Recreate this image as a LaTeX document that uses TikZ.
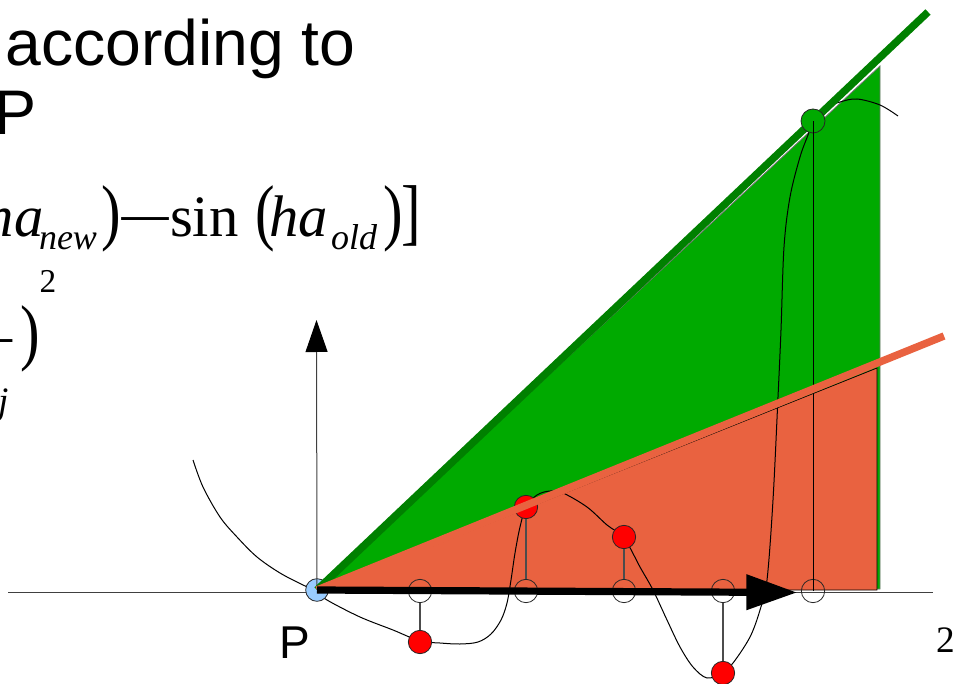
\documentclass[tikz,border=0pt]{standalone}
\usepackage{fontspec}
\usepackage{graphicx}
\setmainfont{Liberation Sans}
\newfontfamily\frm{Liberation Serif}
\usetikzlibrary{arrows.meta}
\definecolor{grnfill}{RGB}{0,170,0}
\definecolor{grnline}{RGB}{0,128,0}
\definecolor{orng}{RGB}{233,98,64}
\definecolor{ltblue}{RGB}{153,204,255}
\definecolor{redpt}{RGB}{255,0,0}
\newcommand{\fmbig}{\frm\fontsize{44}{50}\selectfont}
\newcommand{\fmsub}{\frm\fontsize{27}{32}\selectfont}
\newcommand{\fmsup}{\frm\fontsize{25}{30}\selectfont}
\newcommand{\tallp}[1]{\scalebox{1}[1.25]{#1}}
\begin{document}
\begin{tikzpicture}[x=0.75pt,y=-0.75pt,
  txt/.style={inner sep=0pt, outer sep=0pt, anchor=base west},
  mid/.style={inner sep=0pt, outer sep=0pt},
  axisline/.style={draw=black!75, line width=0.75pt},
  opendot/.style={circle, draw=black!85, line width=0.6pt, minimum size=17.5pt, inner sep=0pt, outer sep=0pt},
  reddot/.style={circle, draw=black!85, fill=redpt, line width=0.6pt, minimum size=17.5pt, inner sep=0pt, outer sep=0pt},
  conn/.style={draw=black!70, line width=1.1pt},
  thinblack/.style={draw=black, line width=0.7pt},
  band/.style={line width=5.6pt, line cap=butt}]
\useasboundingbox (0,0) rectangle (953,684);
\clip (0,0) rectangle (953,684);

% title text
\node[txt, font=\fontsize{48.2}{56}\selectfont] (t1) at (5.5,66) {according to};
\node[txt, font=\fontsize{47.25}{56}\selectfont] (t2) at (-5,135) {P};

% formula fragments
\node[txt, font=\fmbig\itshape] (f1) at (-15,237) {ha};
\node[txt, font=\fmsub\itshape] (f2) at (39,250) {new};
\node[txt, font=\fmbig] (f3) at (101,237) {\tallp{)}};
\node[mid, font=\fmbig] (f4) at (145,228) {\scalebox{1.75}[1]{−}};
\node[txt, font=\fmbig] (f5) at (170,237) {sin};
\node[txt, font=\fmbig] (f6) at (255,237) {\tallp{(}};
\node[txt, font=\fmbig\itshape] (f7) at (269,237) {ha};
\node[txt, font=\fmsub\itshape] (f8) at (331,250) {old};
\node[txt, font=\fmbig] (f9) at (383,237) {\tallp{)}};
\node[txt, font=\fmbig] (f10) at (401,237) {\tallp{]}};
\node[txt, font=\fmsup] (h1) at (39.5,293) {2};
\node[mid, font=\fmbig] (h2) at (-11.5,350) {\scalebox{1.8}[1]{−}};
\node[txt, font=\fmbig] (h3) at (21,356) {\tallp{)}};
\node[txt, font=\frm\fontsize{28}{32}\selectfont\itshape] (h4) at (-2,413) {j};

% horizontal axis
\coordinate (xl) at (8,592.5);
\coordinate (xr) at (933,592.5);
\draw[axisline] (xl) -- (xr);

% triangles
\filldraw[fill=grnfill, draw=black!55, line width=0.6pt] (318,590) -- (880,66) -- (880,589) -- cycle;
\filldraw[fill=orng, draw=black, line width=0.6pt] (322,590) -- (877,368) -- (877,590) -- cycle;

% curve
\draw[black, line width=0.75pt] plot[smooth, tension=0.55] coordinates {
 (193,460) (203,487) (220,517) (237,537) (257,557) (280,573) (303,585) (316,591)
 (327,600) (360,617) (393,630) (420,641) (440,643) (460,644) (478,642) (491,634)
 (501,620) (507,603) (511,580) (515,553) (520,527) (526,507) (537,495) (550,491)
 (563,493) (587,507) (607,525) (624,538) (640,567) (653,590) (667,620) (680,647)
 (693,667) (707,678) (722,673) (733,663) (750,637) (760,610) (767,580) (773,500)
 (778,397) (781,330) (784,247) (790,197) (800,157) (808,135) (813,121) (826,108)
 (840,102) (857,99) (880,105) (898,116)};

% origin point and vertical axis
\node[circle, draw=black!85, fill=ltblue, line width=0.6pt, minimum size=17pt, inner sep=0pt] (P) at (317,590) {};
\coordinate (ytip) at (316.5,320);
\draw[axisline, -{Triangle[length=24pt, width=16.5pt, black]}] (P.center) -- (ytip);

% sample points
\node[opendot] (o1) at (420,591) {};
\node[opendot] (o2) at (526,591) {};
\node[opendot] (o3) at (624,591) {};
\node[opendot] (o4) at (723,591) {};
\node[opendot] (o5) at (813,591) {};
\node[reddot] (r1) at (420,642) {};
\node[reddot] (r2) at (526,507) {};
\node[reddot] (r3) at (624,537) {};
\node[reddot] (r4) at (723,673) {};
\draw[conn] (o1) -- (r1);
\draw[conn] (o2) -- (r2);
\draw[conn] (o3) -- (r3);
\draw[conn] (o4) -- (r4);

% green band and point
\coordinate (gend) at (928,12);
\draw[band, grnline] (P.center) -- (gend);
\node[circle, draw=black!85, fill=grnfill, line width=0.6pt, minimum size=18pt, inner sep=0pt] (gc) at (813,121) {};
\draw[thinblack] (o5.center) -- (gc.center);

% orange band
\coordinate (oend) at (944,336);
\draw[band, orng] (P.center) -- (oend);

% black arrow
\coordinate (atip) at (797,592.5);
\draw[black, line width=5.4pt, -{Triangle[length=38pt, width=25.5pt]}] (P.center) -- (atip);

% labels
\node[txt, font=\fontsize{34.5}{40}\selectfont] (Plab) at (279.5,658) {P};
\node[txt, font=\frm\fontsize{28}{32}\selectfont] (two) at (936,652) {2};
\end{tikzpicture}
\end{document}
